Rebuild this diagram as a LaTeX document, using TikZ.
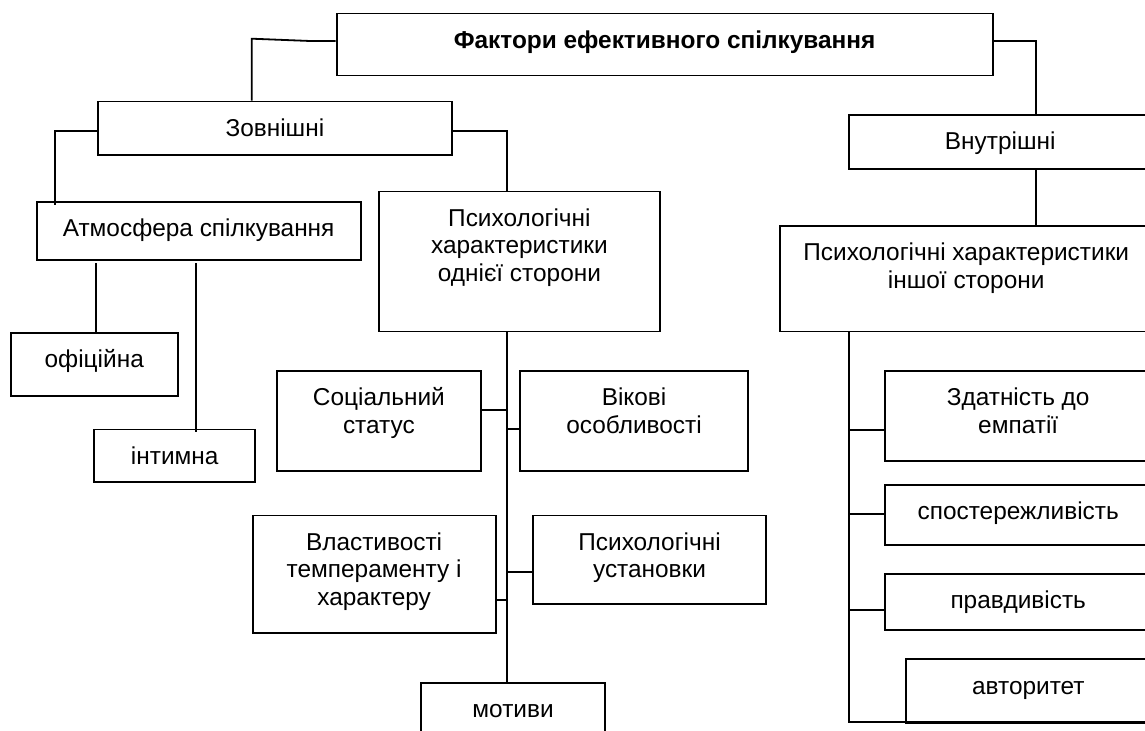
\documentclass[tikz,border=0pt]{standalone}
\usepackage{fontspec}
\setmainfont{Liberation Sans}

\newlength{\px}\setlength{\px}{0.5pt}
% text sits at the top of each box
\newcommand{\boxtxt}[3]{\parbox[c][#2\px][t]{#1\px}{\centering\rule{0pt}{34.8\px}#3}}

\begin{document}
\begin{tikzpicture}[
    x=0.5pt, y=-0.5pt,
    box/.style={draw, line width=0.9pt, anchor=north west, inner sep=0pt, font=\fontsize{12.2}{13.75}\selectfont},
    link/.style={line width=0.9pt}
]
\useasboundingbox (0,0) rectangle (1145,731);
\clip (0,0) rectangle (1145,731);

\node[box] (title) at (335.7,12.7) {\boxtxt{656}{62}{\textbf{Фактори ефективного спілкування}}};

% external factors
\node[box] (zovn) at (97.3,100.7) {\boxtxt{353.4}{53.6}{Зовнішні}};
\node[box] (atm) at (35.7,201) {\boxtxt{324}{58}{Атмосфера спілкування}};
\node[box] (psy1) at (378,190.7) {\boxtxt{281}{140}{Психологічні\\характеристики\\однієї сторони}};
\node[box] (ofic) at (10,332.3) {\boxtxt{166.7}{62.7}{офіційна}};
\node[box] (intym) at (93.3,428.7) {\boxtxt{161}{52.6}{інтимна}};
\node[box] (soc) at (275.7,370.3) {\boxtxt{204.6}{100}{Соціальний\\статус}};
\node[box] (vik) at (519,370.3) {\boxtxt{228.3}{100}{Вікові\\особливості}};
\node[box] (vlast) at (251.7,514.7) {\boxtxt{243}{117.3}{Властивості\\темпераменту і\\характеру}};
\node[box] (ustan) at (532.3,514.7) {\boxtxt{232.7}{88.6}{Психологічні\\установки}};
\node[box] (motyv) at (420,682) {\boxtxt{184.3}{60}{мотиви}};

% internal factors
\node[box] (vnutr) at (848.3,114.3) {\boxtxt{302}{54}{Внутрішні}};
\node[box] (psy2) at (779.3,225) {\boxtxt{372}{105.7}{Психологічні характеристики\\іншої сторони}};
\node[box] (empat) at (884.3,370.3) {\boxtxt{266}{90}{Здатність до\\емпатії}};
\node[box] (spost) at (884.3,484.3) {\boxtxt{266}{59.4}{спостережливість}};
\node[box] (pravd) at (884.3,572.7) {\boxtxt{266}{56.6}{правдивість}};
\node[box] (avtor) at (905,658.3) {\boxtxt{245}{63.7}{авторитет}};

% bend points
\coordinate (l0) at (251.7,38.7);
\coordinate (l1) at (310,41);
\coordinate (z0) at (55,130.7);
\coordinate (t1) at (506.7,130.7);
\coordinate (a1) at (96.3,263.3);
\coordinate (a2) at (196,263.3);
\coordinate (b1) at (506.7,409.7);
\coordinate (b2) at (506.7,429.3);
\coordinate (b3) at (506.7,572);
\coordinate (b4) at (506.7,600.3);
\coordinate (r0) at (1036,41);
\coordinate (rb) at (849.3,722);
\coordinate (c1) at (849.3,430.3);
\coordinate (c2) at (849.3,513.7);
\coordinate (c3) at (849.3,610.3);

\draw[link] (title.west |- l1) -- (l1) -- (l0) -- (l0 |- zovn.north);
\draw[link] (zovn.west |- z0) -- (z0) -- (z0 |- atm.north) -- ++(0,4);
\draw[link] (zovn.east |- t1) -- (t1) -- (t1 |- psy1.north);
\draw[link] (a1) -- (a1 |- ofic.north);
\draw[link] (a2) -- (a2 |- intym.north) -- ++(0,3.3);
\draw[link] (t1 |- psy1.south) -- (t1 |- motyv.north);
\draw[link] (soc.east |- b1) -- (b1);
\draw[link] (b2) -- (b2 -| vik.west);
\draw[link] (b3) -- (b3 -| ustan.west);
\draw[link] (vlast.east |- b4) -- (b4);

\draw[link] (title.east |- r0) -- (r0) -- (r0 |- vnutr.north);
\draw[link] (r0 |- vnutr.south) -- (r0 |- psy2.north);
\draw[link] (rb |- psy2.south) -- (rb) -- (rb -| avtor.east);
\draw[link] (c1) -- (c1 -| empat.west);
\draw[link] (c2) -- (c2 -| spost.west);
\draw[link] (c3) -- (c3 -| pravd.west);

\end{tikzpicture}
\end{document}
